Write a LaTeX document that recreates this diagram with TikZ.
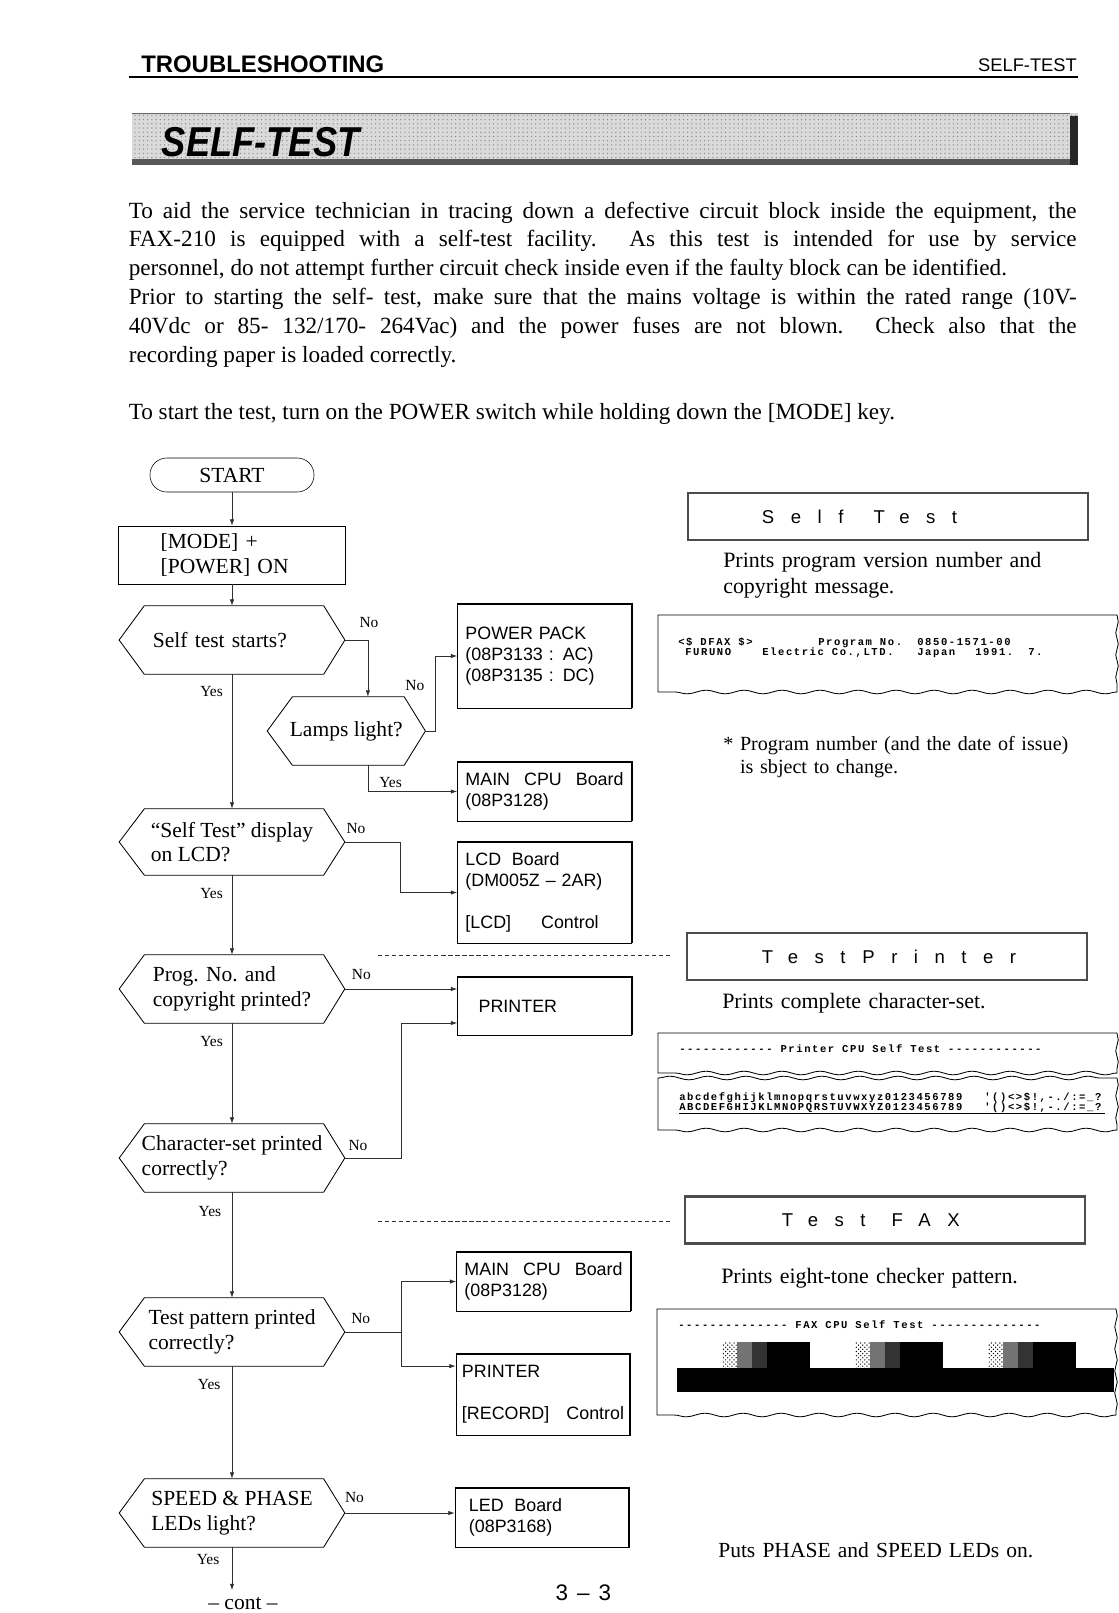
\documentclass[tikz,border=0pt]{standalone}
\usepackage{fontspec}
\setmainfont{Liberation Serif}
\setsansfont{Liberation Sans}
\newfontfamily\dotfont{Liberation Mono}[LetterSpace=15]
\newfontfamily\spacedfont{Liberation Sans}[LetterSpace=89]
\usepackage{graphicx}
\usetikzlibrary{arrows.meta,calc,decorations.pathmorphing,patterns}
\definecolor{inkgray}{HTML}{303030}
\definecolor{screengray}{HTML}{DADADA}
\newcommand\fsz[2]{\fontsize{#1}{#2}\selectfont}
\newcommand\dashrun[1]{\foreach \i in {1,...,#1}{-}}

\begin{document}
\begin{tikzpicture}[
    x=0.025cm, y=-0.025cm,
    term/.style={draw, rounded corners=0.42cm, minimum width=4.1cm, minimum height=0.85cm, font=\fsz{15.3}{18}},
    act/.style={draw, minimum width=5.665cm, minimum height=1.45cm, align=left, text width=3.565cm, inner xsep=1.05cm, font=\fsz{15.3}{18.4}},
    choice/.style={minimum width=5.625cm, minimum height=1.7cm, align=left, inner sep=2pt, font=\fsz{15.3}{17.3}},
    part/.style={draw, minimum width=4.35cm, align=left, text width=3.95cm, inner xsep=0.2cm, font=\sffamily\fsz{12.7}{14.9}},
    testhead/.style={draw=black!70, line width=1.8pt, minimum width=10cm, minimum height=1.175cm, align=left, text width=9.6cm, inner xsep=0.2cm, font=\spacedfont\fsz{13.2}{16}},
    desc/.style={anchor=base west, align=left, text width=10cm, inner sep=0, font=\fsz{15.6}{18.9}},
    yn/.style={font=\fsz{11}{13}, inner sep=1pt},
    dotline/.style={anchor=base west, inner sep=0, font=\dotfont\bfseries\fsz{7.5}{8.5}},
    flow/.style={draw=inkgray, line width=0.5pt, -{Latex[length=1.6mm,width=1.1mm]}},
    wire/.style={draw=inkgray, line width=0.5pt},
    sepline/.style={draw=inkgray, line width=0.5pt, dash pattern=on 3pt off 2pt},
    paper/.style={draw, line width=0.6pt},
    tearside/.style={decoration={snake, amplitude=0.9pt, segment length=0.55cm}},
    tearfoot/.style={decoration={snake, amplitude=1.3pt, segment length=0.95cm}},
]
\useasboundingbox (0,0) rectangle (1119,1613);

% page head
\node[anchor=base west, inner sep=0, font=\sffamily\bfseries\fsz{17}{20}] (hdrleft) at (141,72) {TROUBLESHOOTING};
\node[anchor=base east, inner sep=0, font=\sffamily\fsz{13}{16}] (hdrright) at (1077,71) {SELF-TEST};
\draw[line width=1.1pt] (128.5,77) -- (1078,77);

% title banner
\fill[screengray] (131.6,113) rectangle (1078,164.6);
\fill[pattern=dots, pattern color=black!45] (131.6,113) rectangle (1078,164.6);
\fill[black!65] (131.6,159) rectangle (1078,164.6);
\fill[black!85] (1070,116) rectangle (1078,164.6);
\draw[black!60] (131.6,113) -- (1070,113);
\node[anchor=base west, inner sep=0, font=\sffamily\bfseries\itshape\fsz{29.7}{32}] (bannertxt) at (161.5,156) {\scalebox{0.87}[1]{SELF-TEST}};

% introduction
\node[anchor=base west, text width=23.69cm, inner sep=0, align=justify, font=\fsz{16.5}{20.49}] (intro) at (128.5,218) {%
To aid the service technician in tracing down a defective circuit block inside the equipment, the\linebreak
FAX-210 is equipped with a self-test facility. As this test is intended for use by service\linebreak
personnel, do not attempt further circuit check inside even if the faulty block can be identified.\\
Prior to starting the self- test, make sure that the mains voltage is within the rated range (10V-\linebreak
40Vdc or 85- 132/170- 264Vac) and the power fuses are not blown. Check also that the\linebreak
recording paper is loaded correctly.\\[20.49pt]
To start the test, turn on the POWER switch while holding down the [MODE] key.};

% flow chart
\node[term] (start) at (232,475) {START};
\node[act] (mode) at (232,555) {[MODE] +\\\relax[POWER] ON};
\node[choice, text width=3.95cm, inner xsep=0.84cm] (d1) at (232,640) {Self test starts?};
\node[choice, minimum width=3.94cm] (d2) at (346.3,731) {Lamps light?};
\node[choice, minimum height=1.65cm] (d3) at (232,842) {“Self Test” display\\on LCD?};
\node[choice] (d4) at (232,989) {Prog. No. and\\copyright printed?};
\node[choice] (d5) at (232,1158) {Character-set printed\\correctly?};
\node[choice] (d6) at (232,1332) {Test pattern printed\\correctly?};
\node[choice] (d7) at (232,1513) {SPEED \& PHASE\\LEDs light?};
\foreach \n in {d1,d2,d3,d4,d5,d6,d7}
  \draw[line width=0.6pt] (\n.west) -- ([xshift=0.63cm]\n.north west) -- ([xshift=-0.53cm]\n.north east) -- (\n.east) -- ([xshift=-0.53cm]\n.south east) -- ([xshift=0.63cm]\n.south west) -- cycle;

\node[part, minimum height=2.6cm] (pp) at (544.5,656) {POWER PACK\\(08P3133 : AC)\\(08P3135 : DC)};
\node[part, minimum height=1.475cm] (cpu1) at (544.5,791.5) {MAIN\hfill CPU\hfill Board\\(08P3128)};
\node[part, minimum height=2.525cm] (lcd) at (544.5,892.5) {LCD\hspace{0.6em}Board\\(DM005Z – 2AR)\\\mbox{}\\\relax[LCD]\hspace{0.75cm}Control};
\node[part, minimum height=1.45cm, text width=3.29cm, inner xsep=0.53cm] (prn1) at (544.5,1006) {PRINTER};
\node[part, minimum height=1.475cm] (cpu2) at (543.5,1281.5) {MAIN\hfill CPU\hfill Board\\(08P3128)};
\node[part, minimum height=2.025cm, text width=4.05cm, inner xsep=0.15cm] (prn2) at (543,1394.5) {PRINTER\\\mbox{}\\\relax[RECORD]\hfill Control};
\node[part, minimum height=1.475cm, text width=3.65cm, inner xsep=0.35cm] (led) at (542,1517.5) {LED\hspace{0.6em}Board\\(08P3168)};
\foreach \n in {pp,cpu1,lcd,prn1,cpu2,prn2,led}
  \draw[line width=1.6pt] (\n.north west) -- (\n.north east) -- (\n.south east);

\node[font=\fsz{15.3}{18}, inner sep=1pt] (cont) at (243,1604) {– cont –};

\draw[flow] (start) -- (mode);
\draw[flow] (mode) -- (d1);
\draw[flow] (d1) -- (d3);
\draw[flow] (d1.east) -| ([xshift=0.54cm]d2.north);
\draw[flow] (d2.east) -- ++(10.3,0) |- (pp);
\draw[flow] ([xshift=0.54cm]d2.south) |- (cpu1);
\draw[flow] (d3.east) -- ++(55.8,0) |- (lcd);
\draw[flow] (d3) -- (d4);
\draw[flow] (d4.east) -- (d4.east -| prn1.west);
\draw[flow] (d4) -- (d5);
\draw[flow] (d5.east) -- ++(56.8,0) |- ([yshift=-0.425cm]prn1.west);
\draw[flow] (d5) -- (d6);
\draw[wire] (d6.east) -- ++(56.5,0) coordinate (d6fork);
\draw[flow] (d6fork) |- (cpu2);
\draw[flow] (d6fork) |- ([yshift=0.71cm]prn2.west);
\draw[flow] (d6) -- (d7);
\draw[flow] (d7.east) -- (d7.east -| led.west);
\draw[flow] (d7) -- ($(d7.south |- cont.north)+(0,-6)$);

\foreach \nm/\x/\y in {no1/369/623, no2/414.8/685, no3/356/828, no4/361.4/974, no5/358/1145, no6/360.7/1318, no7/354.5/1497}
  \node[yn] (\nm) at (\x,\y) {No};
\foreach \nm/\x/\y in {yes1/211.6/691, yes2/390.6/782, yes3/211.6/893, yes4/211.6/1041, yes5/209.9/1211, yes6/209.2/1384, yes7/208.1/1559}
  \node[yn] (\nm) at (\x,\y) {Yes};

% separators
\draw[sepline] (378,955) -- (672,955);
\draw[sepline] (378,1221) -- (671,1221);

% right column: self test
\node[testhead] (tself) at (888,516.5) {\hspace*{1.65cm}Self\hspace{0.75cm}Test};
\node[desc] (selfdesc) at (723,567) {Prints program version number and\\copyright message.};
\draw[paper] (658,615) -- (1117,615) decorate[tearside]{-- (1117,692)} decorate[tearfoot]{-- (658,692)} -- cycle;
\node[dotline] (p1a) at (678,645) {<\$ DFAX \$>};
\node[dotline] (p1b) at (818,645) {Program No.};
\node[dotline] (p1c) at (917,645) {0850-1571-00};
\node[dotline] (p1d) at (685,655) {FURUNO};
\node[dotline] (p1e) at (762,655) {Electric Co.,LTD.};
\node[dotline] (p1f) at (917,655) {Japan};
\node[dotline] (p1g) at (975,655) {1991.};
\node[dotline] (p1h) at (1028,655) {7.};
\node[desc, font=\fsz{14.3}{16.6}] (note) at (723,750) {* Program number (and the date of issue)\\\phantom{* }is sbject to change.};

% right column: printer
\node[testhead] (tprn) at (887,956.5) {\hspace*{1.675cm}Test\hspace{0.42cm}Printer};
\node[desc] (prndesc) at (722,1008) {Prints complete character-set.};
\draw[paper] (658,1033) -- (1117,1033) decorate[tearside]{-- (1117,1073)} decorate[tearfoot]{-- (658,1073)} -- cycle;
\draw[paper] (658,1078) decorate[tearfoot]{-- (1117,1078)} decorate[tearside]{-- (1117,1130)} decorate[tearfoot]{-- (658,1130)} -- cycle;
\node[dotline] (p2head) at (679,1052) {\dashrun{12} Printer CPU Self Test \dashrun{12}};
\node[dotline] (p2low) at (679,1100) {abcdefghijklmnopqrstuvwxyz0123456789};
\node[dotline] (p2lowsym) at (984,1100) {'()<>\$!,-./:=\_?};
\node[dotline] (p2up) at (679,1110.5) {ABCDEFGHIJKLMNOPQRSTUVWXYZ0123456789};
\node[dotline] (p2upsym) at (984,1110.5) {'()<>\$!,-./:=\_?};
\draw[line width=0.4pt] (679,1113) -- (1105,1113);

% right column: fax
\node[testhead] (tfax) at (885,1220) {\hspace*{2.225cm}Test\hspace{0.65cm}FAX};
\node[desc] (faxdesc) at (721,1283.5) {Prints eight-tone checker pattern.};
\draw[paper] (657,1309) -- (1116,1309) decorate[tearside]{-- (1116,1415)} decorate[tearfoot]{-- (657,1415)} -- cycle;
\node[dotline] (p3head) at (678,1328) {\dashrun{14} FAX CPU Self Test \dashrun{14}};
\fill (677,1368) rectangle (1114,1392);
\foreach \x in {737,870,1003} {
  \fill[pattern=crosshatch dots] (\x-15,1342) rectangle (\x,1368);
  \fill[black!55] (\x,1342) rectangle (\x+15,1368);
  \fill[black!80] (\x+15,1342) rectangle (\x+30,1368);
  \fill (\x+30,1342) rectangle (\x+73,1368);
}
\node[desc, font=\fsz{15.3}{18}] (leddesc) at (718,1557) {Puts PHASE and SPEED LEDs on.};

\node[font=\sffamily\fsz{16}{18}] (pageno) at (583.5,1593) {3\hspace{0.4em}–\hspace{0.4em}3};
\end{tikzpicture}
\end{document}
